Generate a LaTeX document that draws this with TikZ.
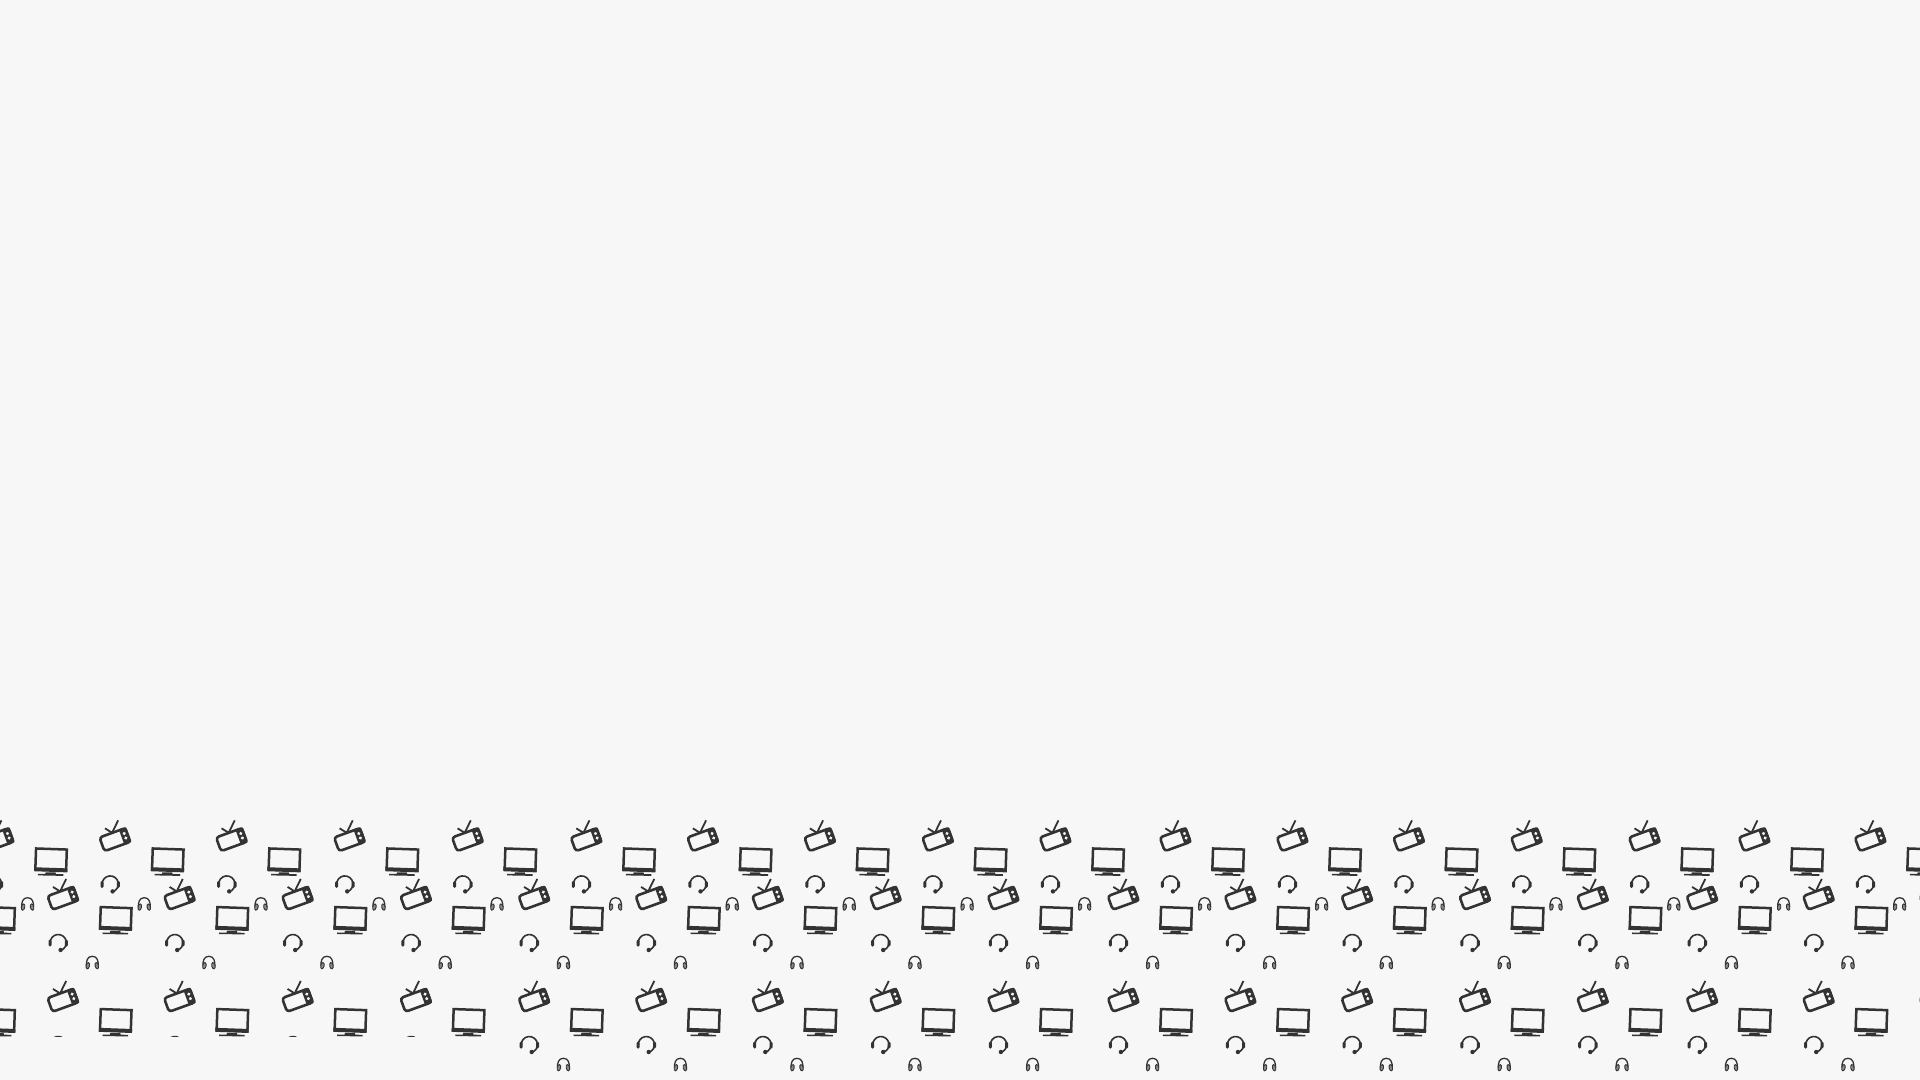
\documentclass[tikz,border=0pt]{standalone}
\usepackage{tikz}
\usetikzlibrary{calc}
\definecolor{iconbg}{RGB}{247,247,247}
\definecolor{icondark}{RGB}{51,51,51}
\definecolor{icongray}{RGB}{85,85,85}
\newcommand{\toprowx}{-2,114.7,231.3,349.3,467.3,586,702.6,819.6,937.5,1055,1175,1292,1408.5,1526.3,1644.2,1754,1870}
\newcommand{\lowleftx}{-54,62.7,179.3,297.3,415.6}
\newcommand{\lowrightx}{533.8,650.8,767.4,885.3,1003,1123,1240,1356.7,1474.6,1592.4,1701.8,1818.3,1935}
\tikzset{
  tvicon/.pic={
    \begin{scope}[rotate=20]
      \draw[icondark,line width=1.3pt,rounded corners=1.5pt] (-13.7,-7.7) rectangle (13.7,6.9);
      \fill[icondark,rounded corners=1pt] (7.2,-8.7) rectangle (15,8);
      \fill[iconbg] (10.9,2.2) circle (1.7);
      \fill[iconbg] (10.9,-2.6) circle (1.7);
      \draw[icondark,line width=0.9pt] (-0.2,7) -- (9.7,16.6);
      \draw[icondark,line width=0.9pt] (-0.2,7) -- (-5.4,13.6);
    \end{scope}
  },
  monitoricon/.pic={
    \begin{scope}[rotate=-2,shift={(0.5,-0.6)}]
      \draw[icondark,line width=1.25pt] (-15.4,-10.4) rectangle (15.4,10.6);
      \fill[icondark] (-16.6,-12.2) rectangle (16.6,-8.2);
    \end{scope}
    \fill[icondark] (-5,-13.4) -- (5,-13.4) -- (5.4,-15.2) -- (-5.4,-15.2) -- cycle;
    \fill[icondark] (-12.8,-14.9) -- (12.8,-15.2) -- (12.8,-16.9) -- (-12.8,-16.4) -- cycle;
  },
  headseticon/.pic={
    \draw[icondark,line width=0.8pt] (-8,-1) arc[start angle=187,end angle=-72,radius=8.1];
    \fill[icondark,rounded corners=0.7pt] (-9.7,-4) rectangle (-6.7,3);
    \fill[icondark,rounded corners=0.7pt] (6.7,-4) rectangle (9.7,3);
    \fill[icondark] (2.4,-7.4) circle (2.2);
  },
  earphoneicon/.pic={
    \draw[icondark,line width=0.65pt] (-6,-3.4) .. controls (-6,1) and (-5.2,6) .. (0,6) .. controls (5.2,6) and (6,1) .. (6,-3.4);
    \filldraw[fill=icongray!70,draw=icondark,line width=0.45pt,rotate around={-12:(-4.5,-3.4)}] (-4.5,-3.4) ellipse (1.7 and 3.2);
    \filldraw[fill=icongray!70,draw=icondark,line width=0.45pt,rotate around={12:(4.5,-3.4)}] (4.5,-3.4) ellipse (1.7 and 3.2);
  }
}
\newcommand{\mediatile}[2]{
  \pic at (#1,#2) {tvicon};
  \pic at ($(#1,#2)+(52.6,-19.7)$) {monitoricon};
  \pic at ($(#1,#2)+(-4.5,-44.7)$) {headseticon};
  \pic at ($(#1,#2)+(29.6,-64.4)$) {earphoneicon};
}
\begin{document}
\begin{tikzpicture}[x=0.5pt,y=0.5pt]
  \useasboundingbox (0,0) rectangle (1920,1080);
  \clip (0,0) rectangle (1920,1080);
  \fill[iconbg] (0,0) rectangle (1920,1080);
  % upper rows
  \foreach \x in \toprowx { \mediatile{\x}{240.7} }
  \foreach \x in \lowleftx { \mediatile{\x}{182.1} }
  \foreach \x in \lowrightx { \mediatile{\x}{182.1} }
  % bottom row, the left part is cut off
  \begin{scope}
    \clip (-100,43.7) rectangle (500,200);
    \foreach \x in \lowleftx { \mediatile{\x}{80.1} }
  \end{scope}
  \foreach \x in \lowrightx { \mediatile{\x}{80.1} }
\end{tikzpicture}
\end{document}
